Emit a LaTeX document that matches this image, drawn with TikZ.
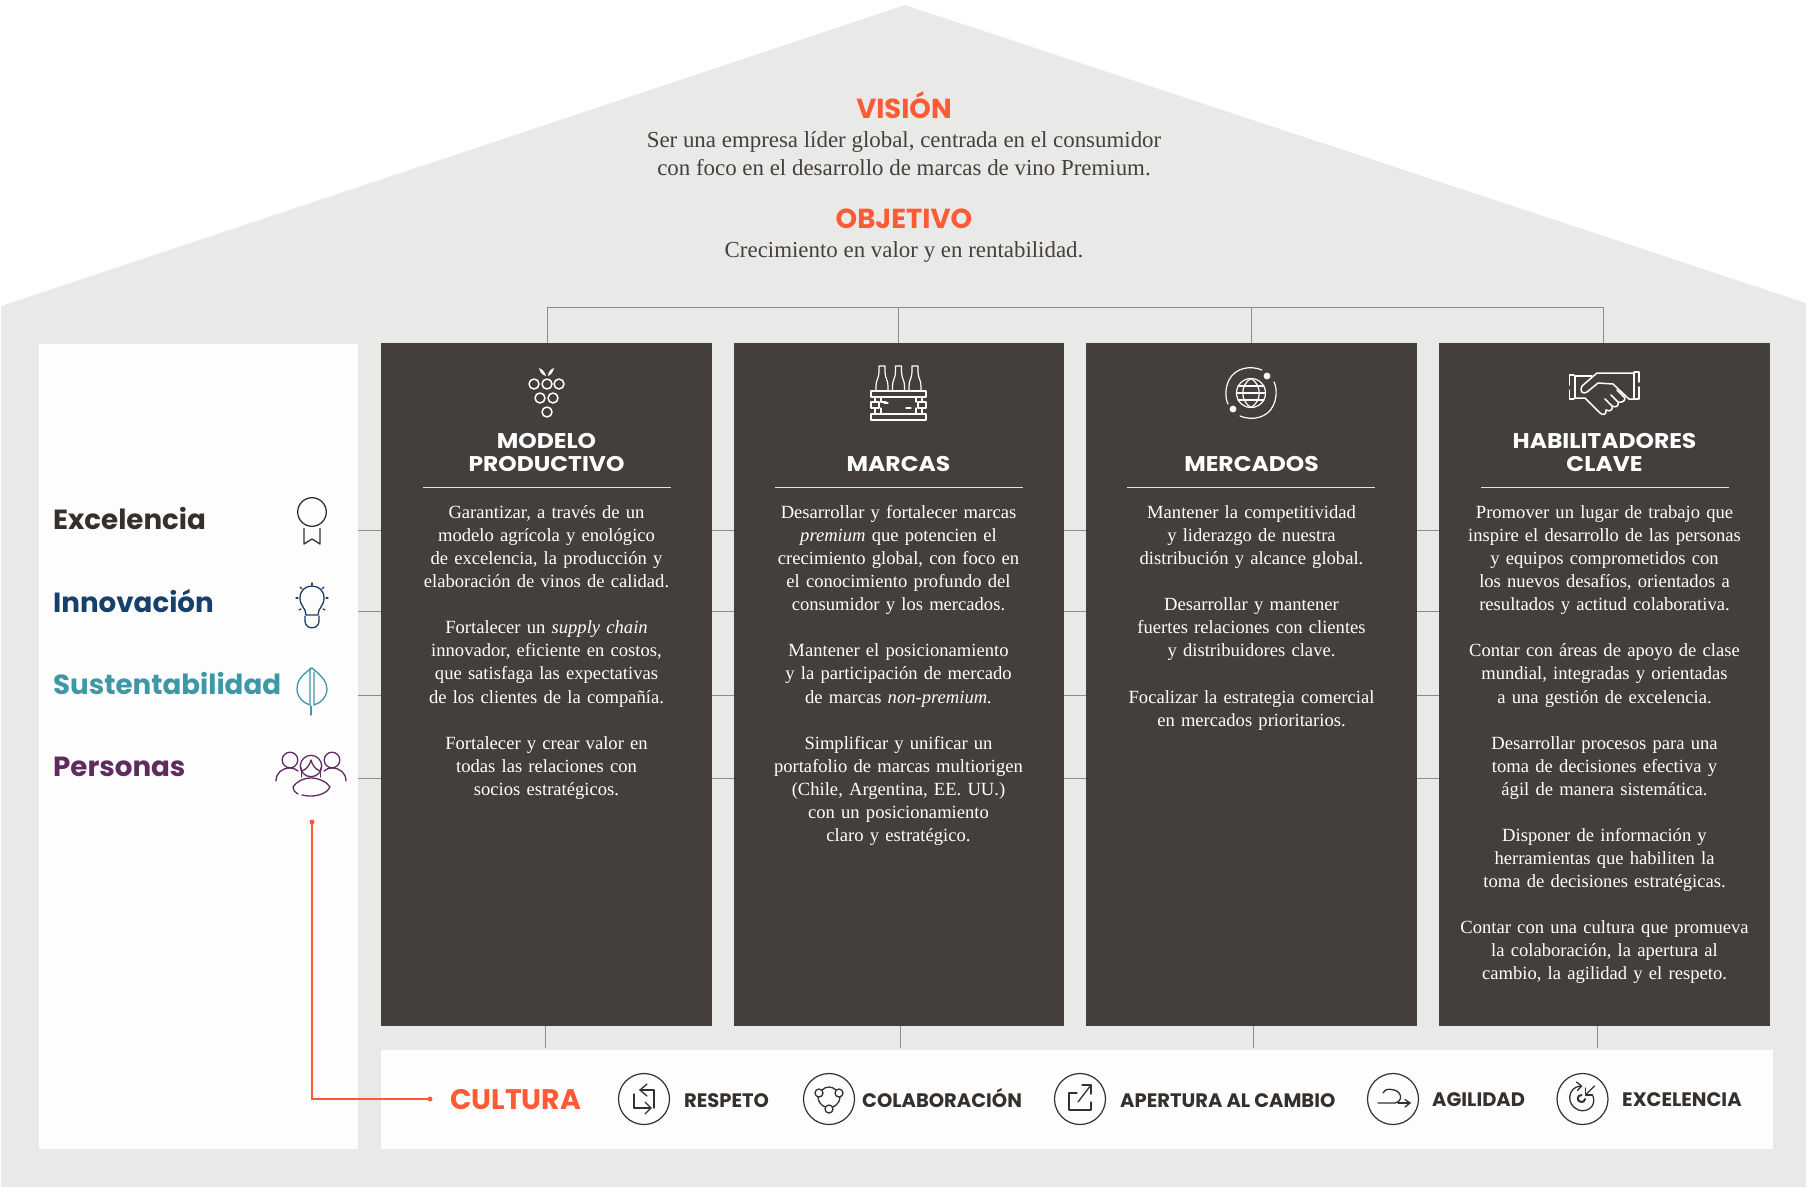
\documentclass[tikz,border=0pt]{standalone}
\usepackage{fontspec}
\setmainfont{Liberation Serif}
\newfontfamily\headf{Poppins}
\newfontfamily\headw{Poppins}[FakeStretch=1.1]
\usetikzlibrary{calc,arrows.meta}
\definecolor{housegrey}{HTML}{E9E9E7}
\definecolor{panelwhite}{HTML}{FDFDFD}
\definecolor{darkcol}{HTML}{443F3C}
\definecolor{accent}{HTML}{FF5A36}
\definecolor{inktext}{HTML}{45403D}
\definecolor{connline}{HTML}{8C8C8A}
\definecolor{exc}{HTML}{35302C}
\definecolor{inn}{HTML}{17406B}
\definecolor{sus}{HTML}{3F97A6}
\definecolor{per}{HTML}{5E2C5E}
\tikzset{
  x=1pt,y=-1pt,
  column/.style={fill=darkcol,draw=none,minimum width=#1,minimum height=683pt,inner sep=0,anchor=north west},
  bodytext/.style={text=white,text width=320pt,align=center,inner sep=0,anchor=north,font=\fontsize{18.6}{23.04}\selectfont},
  colhead/.style={text=white,align=center,inner sep=0,anchor=south,font=\headw\bfseries\fontsize{21.3}{23.04}\selectfont},
  rulew/.style={draw=white!85!darkcol,line width=1pt},
  conn/.style={draw=connline,line width=1pt},
  valuelab/.style={anchor=base west,inner sep=0,font=\headf\bfseries\fontsize{27.7}{30}\selectfont},
  cultlab/.style={anchor=base west,inner sep=0,text=exc,font=\headf\bfseries\fontsize{19.5}{22}\selectfont},
  ring/.style={circle,draw=exc,line width=1.2pt,minimum size=51pt,inner sep=0},
  wicon/.style={draw=white,line width=1.5pt,line cap=round,line join=round},
  kicon/.style={draw=exc,line width=1.3pt,line cap=round,line join=round},
  visiontitle/.style={text=accent,inner sep=0,font=\headf\bfseries\fontsize{27.5}{28}\selectfont},
  visiontext/.style={text=inktext,align=center,inner sep=0,font=\fontsize{22.9}{28}\selectfont}
}
\newcommand{\fl}{\rule{0pt}{14pt}}
\begin{document}
\begin{tikzpicture}
\useasboundingbox (0,0) rectangle (1806,1187);
\fill[housegrey] (1,306) -- (905,5) -- (1806,303) -- (1806,1187) -- (1,1187) -- cycle;

% panels
\node[fill=panelwhite,minimum width=319pt,minimum height=805pt,inner sep=0,anchor=north west] (panel) at (39,343.5) {};
\node[fill=panelwhite,minimum width=1392pt,minimum height=99pt,inner sep=0,anchor=north west] (culture) at (381,1050) {};

% columns
\node[column=331pt] (c1) at (381,343) {};
\node[column=329.5pt] (c2) at (734,343) {};
\node[column=331pt] (c3) at (1086,343) {};
\node[column=331pt] (c4) at (1439,343) {};

% title
\node[visiontitle] (vision) at (904,105) {VISIÓN};
\node[visiontext] (visiontxt) at (904,154) {Ser una empresa líder global, centrada en el consumidor\\con foco en el desarrollo de marcas de vino Premium.};
\node[visiontitle] (objetivo) at (904,219) {OBJETIVO};
\node[visiontext] (objtxt) at (904,252) {Crecimiento en valor y en rentabilidad.};

% top connectors
\coordinate (bus1) at (547,307);
\coordinate (bus2) at (898,307);
\coordinate (bus3) at (1251,307);
\coordinate (bus4) at (1603,307);
\draw[conn] (bus1 |- c1.north) -- (bus1) -- (bus4) -- (bus4 |- c4.north);
\draw[conn] (bus2 |- c2.north) -- (bus2);
\draw[conn] (bus3 |- c3.north) -- (bus3);

% bottom connectors
\coordinate (b1) at (545,1048);
\coordinate (b2) at (900,1048);
\coordinate (b3) at (1253,1048);
\coordinate (b4) at (1597,1048);
\draw[conn] (b1) -- (b1 |- c1.south);
\draw[conn] (b2) -- (b2 |- c2.south);
\draw[conn] (b3) -- (b3 |- c3.south);
\draw[conn] (b4) -- (b4 |- c4.south);

% side connectors
\foreach \n/\yy in {1/530,2/611,3/695,4/778}{
  \coordinate (r\n) at (358,\yy);
  \draw[conn] (r\n) -- (r\n -| c1.west);
  \draw[conn] (r\n -| c1.east) -- (r\n -| c2.west);
  \draw[conn] (r\n -| c2.east) -- (r\n -| c3.west);
  \draw[conn] (r\n -| c3.east) -- (r\n -| c4.west);
}

% column headings
\node[colhead] (h1) at (546.5,472) {MODELO\\PRODUCTIVO};
\node[colhead] (h2) at (898.5,472) {MARCAS};
\node[colhead] (h3) at (1251.5,472) {MERCADOS};
\node[colhead] (h4) at (1604.5,472) {HABILITADORES\\CLAVE};
\draw[rulew] (423,487.5) -- (671,487.5);
\draw[rulew] (775,487.5) -- (1023,487.5);
\draw[rulew] (1127,487.5) -- (1375,487.5);
\draw[rulew] (1481,487.5) -- (1729,487.5);

% body texts
\node[bodytext] (t1) at (546.5,504.5) {\fl Garantizar, a través de un\\modelo agrícola y enológico\\de excelencia, la producción y\\elaboración de vinos de calidad.\\[23.04pt]
Fortalecer un \emph{supply chain}\\innovador, eficiente en costos,\\que satisfaga las expectativas\\de los clientes de la compañía.\\[23.04pt]
Fortalecer y crear valor en\\todas las relaciones con\\socios estratégicos.};
\node[bodytext] (t2) at (898.5,504.5) {\fl Desarrollar y fortalecer marcas\\\emph{premium} que potencien el\\crecimiento global, con foco en\\el conocimiento profundo del\\consumidor y los mercados.\\[23.04pt]
Mantener el posicionamiento\\y la participación de mercado\\de marcas \emph{non-premium.}\\[23.04pt]
Simplificar y unificar un\\portafolio de marcas multiorigen\\(Chile, Argentina, EE. UU.)\\con un posicionamiento\\claro y estratégico.};
\node[bodytext] (t3) at (1251.5,504.5) {\fl Mantener la competitividad\\y liderazgo de nuestra\\distribución y alcance global.\\[23.04pt]
Desarrollar y mantener\\fuertes relaciones con clientes\\y distribuidores clave.\\[23.04pt]
Focalizar la estrategia comercial\\en mercados prioritarios.};
\node[bodytext] (t4) at (1604.5,504.5) {\fl Promover un lugar de trabajo que\\inspire el desarrollo de las personas\\y equipos comprometidos con\\los nuevos desafíos, orientados a\\resultados y actitud colaborativa.\\[23.04pt]
Contar con áreas de apoyo de clase\\mundial, integradas y orientadas\\a una gestión de excelencia.\\[23.04pt]
Desarrollar procesos para una\\toma de decisiones efectiva y\\ágil de manera sistemática.\\[23.04pt]
Disponer de información y\\herramientas que habiliten la\\toma de decisiones estratégicas.\\[23.04pt]
Contar con una cultura que promueva\\la colaboración, la apertura al\\cambio, la agilidad y el respeto.};

% value labels
\node[valuelab,text=exc] (v1) at (53,529) {Excelencia};
\node[valuelab,text=inn] (v2) at (53,612) {Innovación};
\node[valuelab,text=sus] (v3) at (53,694) {Sustentabilidad};
\node[valuelab,text=per] (v4) at (53,776) {Personas};

% medal
\draw[exc,line width=1.3pt] (312,512) circle[radius=14.3];
\draw[exc,line width=1.3pt,line join=round] (304,528) -- (304,544) -- (312,539) -- (320,544) -- (320,528);

% bulb
\begin{scope}[inn,line width=1.3pt,line cap=round,line join=round]
\draw (306,615) .. controls (306,608) and (300,606) .. (300,598) .. controls (300,582) and (324,582) .. (324,598) .. controls (324,606) and (318,608) .. (318,615) -- cycle;
\draw (305,616) -- (305,621) .. controls (305,630) and (319,630) .. (319,621) -- (319,616);
\foreach \a/\b/\c/\d in {312/583/312/585, 300/587/302/589, 324/587/322/589, 296/598/298/598, 328/598/326/598, 299/610/301/609, 325/610/323/609}
  \draw (\a,\b) -- (\c,\d);
\end{scope}

% leaf
\begin{scope}[sus,line width=1.3pt,line cap=round,line join=round]
\draw (312,668) .. controls (300,676) and (297,682) .. (297,689) .. controls (297,697) and (303,703) .. (310,705) -- (310,668);
\draw (312,668) .. controls (322,676) and (327,682) .. (327,689) .. controls (327,697) and (321,703) .. (314,705) -- (314,672);
\draw (311,706) -- (311,715);
\end{scope}

% people
\begin{scope}[per,line width=1.3pt,line cap=round,line join=round]
\draw (290,760) circle[radius=7.8];
\draw (332,760) circle[radius=7.8];
\draw (311,766) circle[radius=10.7];
\draw (301.5,771) .. controls (306,770) and (310,765) .. (311,760) .. controls (312,765) and (316,770) .. (320.5,771);
\draw (301.5,768) -- (301.5,777);
\draw (320.5,768) -- (320.5,777);
\draw (298,794) .. controls (295,793) and (293,790) .. (293,787) .. controls (296,782) and (303,778) .. (311,778) .. controls (319,778) and (327,782) .. (330,787) .. controls (328,792) and (320,796) .. (311,796) .. controls (307,796) and (304,795.5) .. (302,795);
\draw (276,781) .. controls (276,773) and (282,768) .. (290,768) .. controls (293,768) and (296,769) .. (298,771);
\draw (346,781) .. controls (346,773) and (340,768) .. (332,768) .. controls (329,768) and (326,769) .. (324,771);
\end{scope}

% red link
\coordinate (redtop) at (312,822);
\coordinate (redend) at (430,1099);
\draw[accent,line width=1.3pt] (redtop) -- (redtop |- redend) -- (redend);
\fill[accent] (redtop) circle[radius=2.5];
\fill[accent] (redend) circle[radius=2.5];

% grapes
\begin{scope}[wicon]
\foreach \a/\b in {534/384,547/384,559/384,540/398,553/398,547/412} \draw (\a,\b) circle[radius=5];
\fill[white] (539,368) .. controls (542,369) and (545,372) .. (546,376) .. controls (542,375) and (540,372) .. (539,368) -- cycle;
\fill[white] (554,368) .. controls (551,369) and (548,372) .. (548,376) .. controls (551,375) and (553,372) .. (554,368) -- cycle;
\end{scope}

% bottles and crate
\begin{scope}[wicon,line width=1.2pt]
\foreach \c in {882,898.5,915}{
  \draw (\c-6,391) -- (\c-6,386) .. controls (\c-6,380) and (\c-3,378) .. (\c-3,372) -- (\c-3,366) -- (\c+3,366) -- (\c+3,372) .. controls (\c+3,378) and (\c+6,380) .. (\c+6,386) -- (\c+6,391);
}
\draw (871,391) rectangle (926,397);
\draw (871,402) rectangle (879,408);
\draw (918,402) rectangle (926,408);
\draw (871,414) rectangle (926,420);
\foreach \c in {875,881,916,922}{
  \draw (\c,397) -- (\c,402);
  \draw (\c,408) -- (\c,414);
}
\draw (881,402) -- (886,402);
\draw (881,414) -- (888,414);
\draw (884,403) -- (888,403);
\draw (906,408) -- (911,408);
\draw (906.5,396.5) -- (907.5,396.5);
\draw (910,414) -- (916,414);
\end{scope}

% globe
\begin{scope}[wicon,line width=1.2pt]
\draw (1251,393) circle[radius=14.5];
\draw (1251,378.5) .. controls (1240,385) and (1240,401) .. (1251,407.5) .. controls (1262,401) and (1262,385) .. (1251,378.5);
\draw (1238,386) -- (1264,386);
\draw (1238,400) -- (1264,400);
\draw (1236.5,393) -- (1265.5,393);
\draw (1262,370) .. controls (1250,365) and (1235,368) .. (1229,380) .. controls (1225,388) and (1225,398) .. (1228,404);
\draw (1240,416) .. controls (1252,421) and (1267,418) .. (1273,406) .. controls (1277,398) and (1277,388) .. (1274,382);
\fill[white] (1267,376) circle[radius=3.4];
\fill[white] (1233,409) circle[radius=3.4];
\end{scope}

% handshake
\begin{scope}[wicon,line width=1.5pt]
\draw (1574,375) -- (1569.5,375) -- (1569.5,385);
\draw (1569.5,390) -- (1569.5,399) -- (1574,399);
\draw (1575,376) -- (1575,398);
\draw (1634,372) -- (1639,372) -- (1639,382);
\draw (1639,387) -- (1639,399) -- (1634,399);
\draw (1634,373) -- (1634,398);
\draw (1575,376) -- (1592,376);
\draw (1634,373) -- (1597,373) -- (1582,386) .. controls (1579,391) and (1583,395) .. (1587,392) -- (1598,383) -- (1613,384) -- (1629,399) -- (1634,399);
\draw (1575,398) -- (1585,398) -- (1600,413) .. controls (1603,416) and (1607,414) .. (1606,410);
\draw (1606,410) .. controls (1610,412) and (1613,410) .. (1612,406) -- (1605,399);
\draw (1612,406) .. controls (1616,408) and (1619,406) .. (1618,402) -- (1611,395);
\draw (1618,402) .. controls (1622,403) and (1625,401) .. (1625,398) -- (1617,390);
\end{scope}

% culture row
\node[anchor=base west,inner sep=0,text=accent,font=\headf\bfseries\fontsize{28.3}{30}\selectfont] (cult) at (450,1109) {CULTURA};
\node[ring] (i1) at (644,1099) {};
\node[ring] (i2) at (829,1099) {};
\node[ring] (i3) at (1080,1099) {};
\node[ring] (i4) at (1393,1099) {};
\node[ring] (i5) at (1582.5,1099) {};
\node[cultlab] (l1) at (684,1107) {RESPETO};
\node[cultlab] (l2) at (862,1107) {COLABORACIÓN};
\node[cultlab] (l3) at (1120,1107) {APERTURA AL CAMBIO};
\node[cultlab] (l4) at (1432,1106) {AGILIDAD};
\node[cultlab] (l5) at (1622,1106) {EXCELENCIA};

% respeto glyph
\begin{scope}[shift={(644,1099)},kicon]
\draw (-4,-9) -- (10,-9) -- (10,9);
\draw (-10,-5) -- (-10,9) -- (7,9);
\draw (3,-15) -- (-4,-9) -- (3,-3);
\draw (1,3) -- (7,9) -- (1,15);
\end{scope}
% colaboracion glyph
\begin{scope}[shift={(829,1099)},kicon]
\draw (-10,-6) circle[radius=4];
\draw (10,-6) circle[radius=4];
\draw (0,10) circle[radius=4];
\draw (-7,-9) .. controls (-3,-13) and (3,-13) .. (7,-9);
\draw (-11,-2) .. controls (-11,3) and (-7,7) .. (-3.5,8);
\draw (11,-2) .. controls (11,3) and (7,7) .. (3.5,8);
\end{scope}
% apertura glyph
\begin{scope}[shift={(1080,1099)},kicon]
\draw (-3,-6) -- (-11,-6) -- (-11,11) -- (11,11) -- (11,3);
\draw (-2,3) -- (11,-14);
\draw (2,-14) -- (11,-14) -- (11,-5);
\end{scope}
% agilidad glyph
\begin{scope}[shift={(1393,1099)},kicon]
\draw (-15,4) -- (2,4) .. controls (8,3) and (9,-3) .. (6,-6) .. controls (2,-11) and (-9,-11) .. (-10,-6);
\draw (5,4) -- (17,4);
\draw (12,0.5) -- (17,4) -- (12,8);
\end{scope}
% excelencia glyph
\begin{scope}[shift={(1582.5,1099)},kicon]
\draw (-2,-13) .. controls (-15,-12) and (-17,6) .. (-4,11) .. controls (5,14) and (14,7) .. (10.5,-3);
\draw (-6,-17) -- (-1,-13) -- (-5,-8.5);
\draw (12,-13) -- (3,-4);
\draw (3,-11) -- (3,-4) -- (10,-4);
\draw[line width=2pt] (-1,-4) .. controls (-6,-4) and (-6,3) .. (-1,3) .. controls (1,3) and (2,2) .. (2.5,0);
\end{scope}
\end{tikzpicture}
\end{document}
